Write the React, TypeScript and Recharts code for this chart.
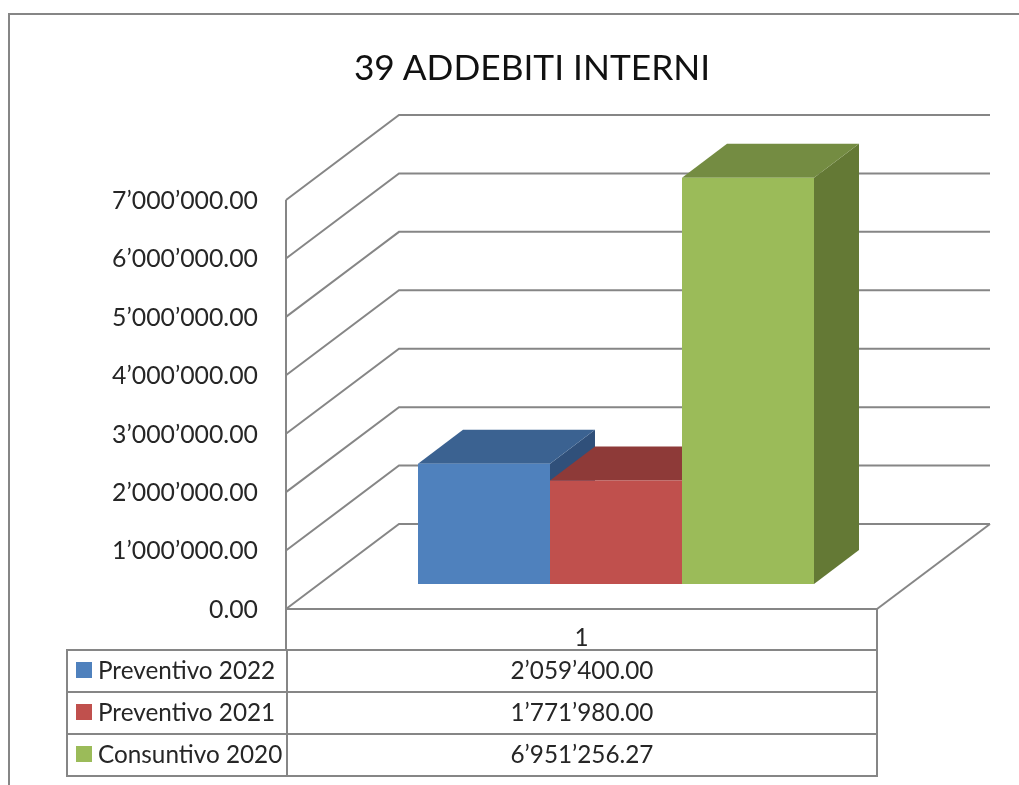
import { BarChart, Bar, XAxis, YAxis, CartesianGrid } from 'recharts'

const title = '39 ADDEBITI INTERNI'
const categories = ['1']
const seriesKeys = ['p2022', 'p2021', 'c2020']
const seriesNames = ['Preventivo 2022', 'Preventivo 2021', 'Consuntivo 2020']
const seriesValues = [2059400.0, 1771980.0, 6951256.27]
const yTicks = [0, 1000000, 2000000, 3000000, 4000000, 5000000, 6000000, 7000000]

const frontColors = ['#4F81BD', '#C0504D', '#9BBB59']
const topColors = ['#3B6291', '#8E3A38', '#748C42']
const sideColors = ['#30507A', '#7A3230', '#647935']

const LINE = '#868686'
const TEXT = '#262626'
const FONT = 'Lato, Carlito, sans-serif'

// wall depth of the fake 3D box, and bar depth
const WALL_DX = 113
const WALL_DY = -85
const BAR_DX = 45
const BAR_DY = -34
const BAR_SHIFT_X = 34
const BAR_SHIFT_Y = -25
const PLOT_BOTTOM = 609

const data = categories.map((c) => {
  const row: Record<string, string | number> = { cat: c }
  seriesKeys.forEach((k, i) => {
    row[k] = seriesValues[i]
  })
  return row
})

function formatNum(v: number) {
  const [int, dec] = v.toFixed(2).split('.')
  return `${int.replace(/\B(?=(\d{3})+(?!\d))/g, '’')}.${dec}`
}

function wallLine(props: any) {
  const { x1, x2, y1, key } = props
  const bx1 = x1 + WALL_DX
  const bx2 = x2 + WALL_DX
  const by = y1 + WALL_DY
  const isFloor = Math.abs(y1 - PLOT_BOTTOM) < 1
  return (
    <g key={key}>
      <polyline
        points={`${x1},${y1} ${bx1},${by} ${bx2},${by}`}
        fill="none"
        stroke={LINE}
        strokeWidth={2}
      />
      {isFloor && (
        <line x1={x2} y1={y1} x2={bx2} y2={by} stroke={LINE} strokeWidth={2} />
      )}
    </g>
  )
}

function bar3d(i: number) {
  return (props: any) => {
    const x = props.x + BAR_SHIFT_X
    const y = props.y + BAR_SHIFT_Y
    const { width: w, height: h } = props
    const top = `${x},${y} ${x + BAR_DX},${y + BAR_DY} ${x + w + BAR_DX},${y + BAR_DY} ${x + w},${y}`
    const side = `${x + w},${y} ${x + w + BAR_DX},${y + BAR_DY} ${x + w + BAR_DX},${y + h + BAR_DY} ${x + w},${y + h}`
    return (
      <g>
        <polygon points={side} fill={sideColors[i]} />
        <polygon points={top} fill={topColors[i]} />
        <rect x={x} y={y} width={w} height={h} fill={frontColors[i]} />
      </g>
    )
  }
}

function DataTable() {
  const cell = { borderTop: `2px solid ${LINE}`, boxSizing: 'border-box' as const, paddingBottom: 3 }
  return (
    <div style={{ position: 'absolute', left: 66, top: 649, width: 812, fontFamily: FONT, fontSize: 24.3, color: TEXT }}>
      {seriesNames.map((name, i) => (
        <div key={name} style={{ display: 'flex', height: 42 }}>
          <div style={{ ...cell, width: 220, borderLeft: `2px solid ${LINE}`, display: 'flex', alignItems: 'center', whiteSpace: 'nowrap' }}>
            <span style={{ width: 16, height: 16, marginLeft: 8, marginRight: 6, background: frontColors[i], display: 'inline-block' }} />
            {name}
          </div>
          <div style={{ ...cell, width: 592, borderLeft: `2px solid ${LINE}`, borderRight: `2px solid ${LINE}`, display: 'flex', alignItems: 'center', justifyContent: 'center' }}>
            {formatNum(seriesValues[i])}
          </div>
        </div>
      ))}
      <div style={{ height: 2, background: LINE }} />
    </div>
  )
}

export default function App() {
  return (
    <div style={{ position: 'absolute', left: 0, top: 0, width: 1019, height: 785, overflow: 'hidden', background: '#fff', filter: 'blur(0.45px)' }}>
      <div style={{ position: 'absolute', left: 8, top: 13, width: 1100, height: 900, border: `2px solid ${LINE}`, boxSizing: 'border-box' }} />
      <div style={{ position: 'absolute', left: 0, top: 45, width: 1064, textAlign: 'center', fontFamily: FONT, fontSize: 35.3, color: '#111' }}>
        {title}
      </div>
      <div style={{ position: 'absolute', left: 0, top: 0 }}>
        <BarChart
          width={1019}
          height={785}
          data={data}
          margin={{ top: 200, right: 142, bottom: 0, left: 86 }}
          barCategoryGap={98}
          barGap={0}
        >
          <CartesianGrid vertical={false} horizontal={wallLine} />
          <XAxis
            dataKey="cat"
            height={176}
            axisLine={{ stroke: LINE, strokeWidth: 2 }}
            tickLine={false}
            tickMargin={14}
            tick={{ fontFamily: FONT, fontSize: 24.3, fill: TEXT }}
          />
          <YAxis
            width={200}
            domain={[0, 7000000]}
            ticks={yTicks}
            interval={0}
            tickFormatter={formatNum}
            axisLine={{ stroke: LINE, strokeWidth: 2 }}
            tickLine={false}
            tickMargin={22}
            tick={{ fontFamily: FONT, fontSize: 24.8, fill: TEXT }}
          />
          {seriesKeys.map((k, i) => (
            <Bar key={k} dataKey={k} name={seriesNames[i]} shape={bar3d(i)} isAnimationActive={false} />
          ))}
        </BarChart>
      </div>
      <div style={{ position: 'absolute', left: 285, top: 609, width: 2, height: 42, background: LINE }} />
      <div style={{ position: 'absolute', left: 876, top: 609, width: 2, height: 42, background: LINE }} />
      <DataTable />
    </div>
  )
}
